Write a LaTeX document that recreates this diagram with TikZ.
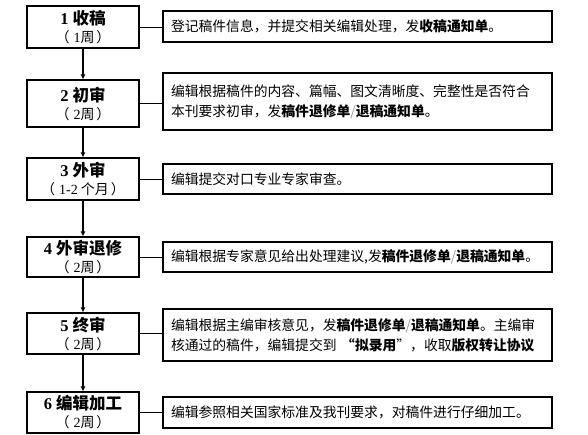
\documentclass[tikz,border=0pt]{standalone}
\usepackage{fontspec}
\setmainfont{Liberation Serif}
\newfontfamily\cjk{Noto Sans CJK SC}
\usetikzlibrary{arrows.meta,positioning}
\tikzset{
  stepbox/.style={draw=black, line width=1.2pt, fill=white,
    minimum width=112pt, align=center, inner sep=0pt,
    font=\fontsize{14}{18}\selectfont},
  notebox/.style={draw=black, line width=1.1pt, fill=white,
    minimum width=389pt, text width=373pt, align=left, inner sep=0pt,
    font=\fontsize{13.8}{20}\selectfont\cjk},
  flow/.style={-{Latex[length=5pt,width=5pt]}, line width=1.8pt},
  link/.style={line width=1pt}
}
\newcommand{\stitle}[2]{{\fontsize{16.5}{18}\selectfont\bfseries #1\ {\cjk #2}}}
\newcommand{\sdur}[2]{{\cjk （}\hspace{4pt}#1{\cjk #2}\hspace{2pt}{\cjk ）}}

\begin{document}
\begin{tikzpicture}[x=1pt,y=-1pt]
  \useasboundingbox[fill=white] (0,0) rectangle (588,434);

  % stages
  \node[stepbox, minimum height=42pt] (s1) at (83,27)
    {\stitle{1}{收稿}\\\sdur{1}{周}};
  \node[stepbox, minimum height=47pt] (s2) at (83,103.5)
    {\stitle{2}{初审}\\\sdur{2}{周}};
  \node[stepbox, minimum height=42pt] (s3) at (83,179)
    {\stitle{3}{外审}\\\sdur{1-2}{ 个月}};
  \node[stepbox, minimum height=40pt] (s4) at (83,257)
    {\stitle{4}{外审退修}\\\sdur{2}{周}};
  \node[stepbox, minimum height=41pt] (s5) at (83,333.5)
    {\stitle{5}{终审}\\\sdur{2}{周}};
  \node[stepbox, minimum height=41pt] (s6) at (83,412.5)
    {\stitle{6}{编辑加工}\\\sdur{2}{周}};

  % descriptions
  \node[notebox, minimum height=31pt] (d1) at (357.5,26.5)
    {登记稿件信息，并提交相关编辑处理，发\textbf{收稿通知单}。};
  \node[notebox, minimum height=57pt] (d2) at (357.5,101.5)
    {编辑根据稿件的内容、篇幅、图文清晰度、完整性是否符合\\本刊要求初审，发\textbf{稿件退修单}{\color{black!40}/}\textbf{退稿通知单}。};
  \node[notebox, minimum height=30pt] (d3) at (357.5,179)
    {编辑提交对口专业专家审查。};
  \node[notebox, minimum height=30pt] (d4) at (357.5,257)
    {编辑根据专家意见给出处理建议,发\textbf{稿件退修单}{\color{black!40}/}\textbf{退稿通知单}。};
  \node[notebox, minimum height=52pt] (d5) at (357.5,335)
    {编辑根据主编审核意见，发\textbf{稿件退修单}{\color{black!40}/}\textbf{退稿通知单}。主编审\\核通过的稿件，编辑提交到 \textbf{“拟录用}”，收取\textbf{版权转让协议}};
  \node[notebox, minimum height=31pt] (d6) at (357.5,412.5)
    {编辑参照相关国家标准及我刊要求，对稿件进行仔细加工。};

  \foreach \a/\b in {s1/s2,s2/s3,s3/s4,s4/s5,s5/s6}
    \draw[flow] (\a) -- (\b);
  \foreach \n in {1,...,6}
    \draw[link] (s\n.east) -- (s\n.east -| d\n.west);
\end{tikzpicture}
\end{document}
